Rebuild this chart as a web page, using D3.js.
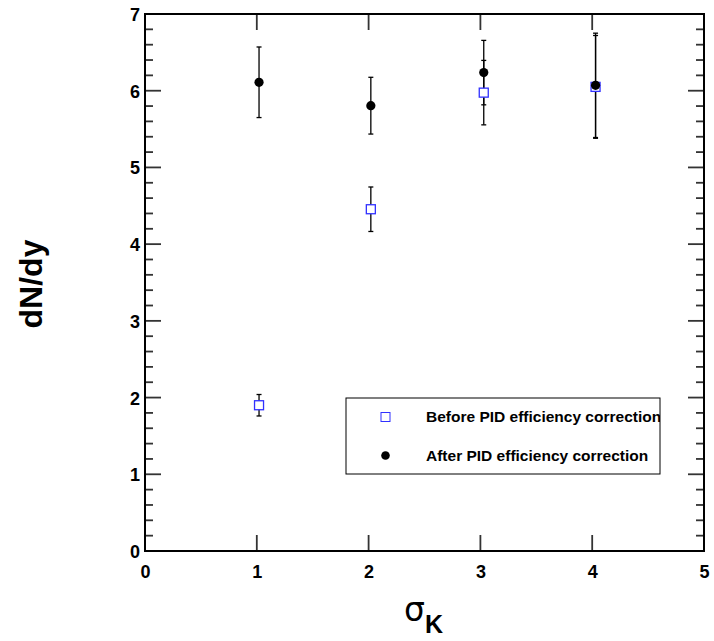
<!DOCTYPE html>
<html>
<head>
<meta charset="utf-8">
<script src="https://cdn.jsdelivr.net/npm/d3@7"></script>
<style>
  html, body { margin: 0; padding: 0; background: #fff; }
  svg { display: block; }
  text { font-family: "Liberation Sans", Arial, sans-serif; }
</style>
</head>
<body>
<div id="chart"></div>
<script>
// dN/dy vs sigma_K cut, before and after PID efficiency correction
const sigmaBefore = [1.02, 2.02, 3.03, 4.03];
const dndyBefore  = [1.90, 4.455, 5.975, 6.05];
const errBefore   = [0.14, 0.29, 0.42, 0.67];

const sigmaAfter  = [1.02, 2.02, 3.03, 4.03];
const dndyAfter   = [6.11, 5.805, 6.236, 6.07];
const errAfter    = [0.46, 0.37, 0.42, 0.68];

const xTicks = [0, 1, 2, 3, 4, 5];
const yTicks = [0, 1, 2, 3, 4, 5, 6, 7];
const legendLabels = ["Before PID efficiency correction", "After PID efficiency correction"];

const W = 714, H = 641;
const margin = { left: 145, right: 10, top: 14, bottom: 90 };
const x0 = margin.left, x1 = W - margin.right;
const y0 = H - margin.bottom, y1 = margin.top;

const x = d3.scaleLinear().domain([0, 5]).range([x0, x1]);
const y = d3.scaleLinear().domain([0, 7]).range([y0, y1]);

const svg = d3.select("#chart").append("svg")
  .attr("width", W).attr("height", H);

const tickColor = "#333";
const yMinor = d3.range(0, 7.001, 0.2).filter(v => Math.abs(v - Math.round(v)) > 1e-6);

// Tick labels from d3 axes (tick marks drawn separately, inside the frame)
function labelAxis(g) {
  g.select(".domain").remove();
  g.selectAll(".tick line").remove();
  g.selectAll(".tick text")
    .attr("font-family", "'Liberation Sans', Arial, sans-serif")
    .attr("font-weight", "bold").attr("font-size", 18).attr("fill", "#000");
}
const gb = svg.append("g").attr("transform", `translate(0,${y0})`)
  .call(d3.axisBottom(x).tickValues(xTicks).tickFormat(d3.format("d"))).call(labelAxis);
gb.selectAll(".tick text").attr("dy", "0").attr("y", 27);
const gl = svg.append("g").attr("transform", `translate(${x0},0)`)
  .call(d3.axisLeft(y).tickValues(yTicks).tickFormat(d3.format("d"))).call(labelAxis);
gl.selectAll(".tick text").attr("x", -5).attr("dy", "0.36em");

// Tick marks pointing into the frame on all four sides
const tk = svg.append("g").attr("stroke", tickColor).attr("stroke-width", 1.8);
xTicks.slice(1, -1).forEach(v => {
  tk.append("line").attr("x1", x(v)).attr("x2", x(v)).attr("y1", y0).attr("y2", y0 - 16);
  tk.append("line").attr("x1", x(v)).attr("x2", x(v)).attr("y1", y1).attr("y2", y1 + 16);
});
yTicks.slice(1, -1).forEach(v => {
  tk.append("line").attr("x1", x0).attr("x2", x0 + 16).attr("y1", y(v)).attr("y2", y(v));
  tk.append("line").attr("x1", x1).attr("x2", x1 - 16).attr("y1", y(v)).attr("y2", y(v));
});
yMinor.forEach(v => {
  tk.append("line").attr("x1", x0).attr("x2", x0 + 8).attr("y1", y(v)).attr("y2", y(v));
  tk.append("line").attr("x1", x1).attr("x2", x1 - 8).attr("y1", y(v)).attr("y2", y(v));
});

// Frame
svg.append("rect")
  .attr("x", x0).attr("y", y1).attr("width", x1 - x0).attr("height", y0 - y1)
  .attr("fill", "none").attr("stroke", "#000").attr("stroke-width", 2);

// Error bars
function errorBars(xs, ys, es) {
  const g = svg.append("g").attr("stroke", "#000").attr("stroke-width", 1.3);
  xs.forEach((xv, i) => {
    const cx = x(xv), top = y(ys[i] + es[i]), bot = y(ys[i] - es[i]);
    g.append("line").attr("x1", cx).attr("x2", cx).attr("y1", top).attr("y2", bot);
    g.append("line").attr("x1", cx - 2.5).attr("x2", cx + 2.5).attr("y1", top).attr("y2", top);
    g.append("line").attr("x1", cx - 2.5).attr("x2", cx + 2.5).attr("y1", bot).attr("y2", bot);
  });
}
errorBars(sigmaBefore, dndyBefore, errBefore);
errorBars(sigmaAfter, dndyAfter, errAfter);

const blue = "#3030ff";
// Before: open blue squares
svg.append("g").selectAll("rect").data(sigmaBefore).join("rect")
  .attr("x", d => x(d) - 4.5).attr("y", (d, i) => y(dndyBefore[i]) - 4.5)
  .attr("width", 9).attr("height", 9)
  .attr("fill", "#fff").attr("stroke", blue).attr("stroke-width", 1.3);

// After: filled black circles
svg.append("g").selectAll("circle").data(sigmaAfter).join("circle")
  .attr("cx", d => x(d)).attr("cy", (d, i) => y(dndyAfter[i])).attr("r", 4.6)
  .attr("fill", "#000");

// Legend
const lg = svg.append("g");
lg.append("defs").append("clipPath").attr("id", "legclip")
  .append("rect").attr("x", 346).attr("y", 398).attr("width", 314).attr("height", 76);
lg.append("rect").attr("x", 346).attr("y", 398).attr("width", 314).attr("height", 76)
  .attr("fill", "#fff").attr("stroke", "#000").attr("stroke-width", 1);
lg.append("rect").attr("x", 381).attr("y", 412.5).attr("width", 9).attr("height", 9)
  .attr("fill", "none").attr("stroke", blue).attr("stroke-width", 1);
lg.append("circle").attr("cx", 385.5).attr("cy", 455.5).attr("r", 4.3).attr("fill", "#000");
const lt = lg.append("g").attr("clip-path", "url(#legclip)");
lt.append("text").attr("x", 426).attr("y", 422).attr("font-size", 15.5).attr("font-weight", "bold")
  .text(legendLabels[0]);
lt.append("text").attr("x", 426).attr("y", 461).attr("font-size", 15.5).attr("font-weight", "bold")
  .text(legendLabels[1]);

// Axis titles
svg.append("text")
  .attr("transform", "translate(42,284) rotate(-90)")
  .attr("text-anchor", "middle").attr("font-weight", "bold").attr("font-size", 32)
  .text("dN/dy");

const xt = svg.append("text").attr("x", 404).attr("y", 621);
xt.append("tspan").attr("font-family", "'DejaVu Sans', sans-serif").attr("font-size", 33).text("σ");
xt.append("tspan").attr("font-weight", "bold").attr("font-size", 25).attr("dy", 12).text("K");
</script>
</body>
</html>
